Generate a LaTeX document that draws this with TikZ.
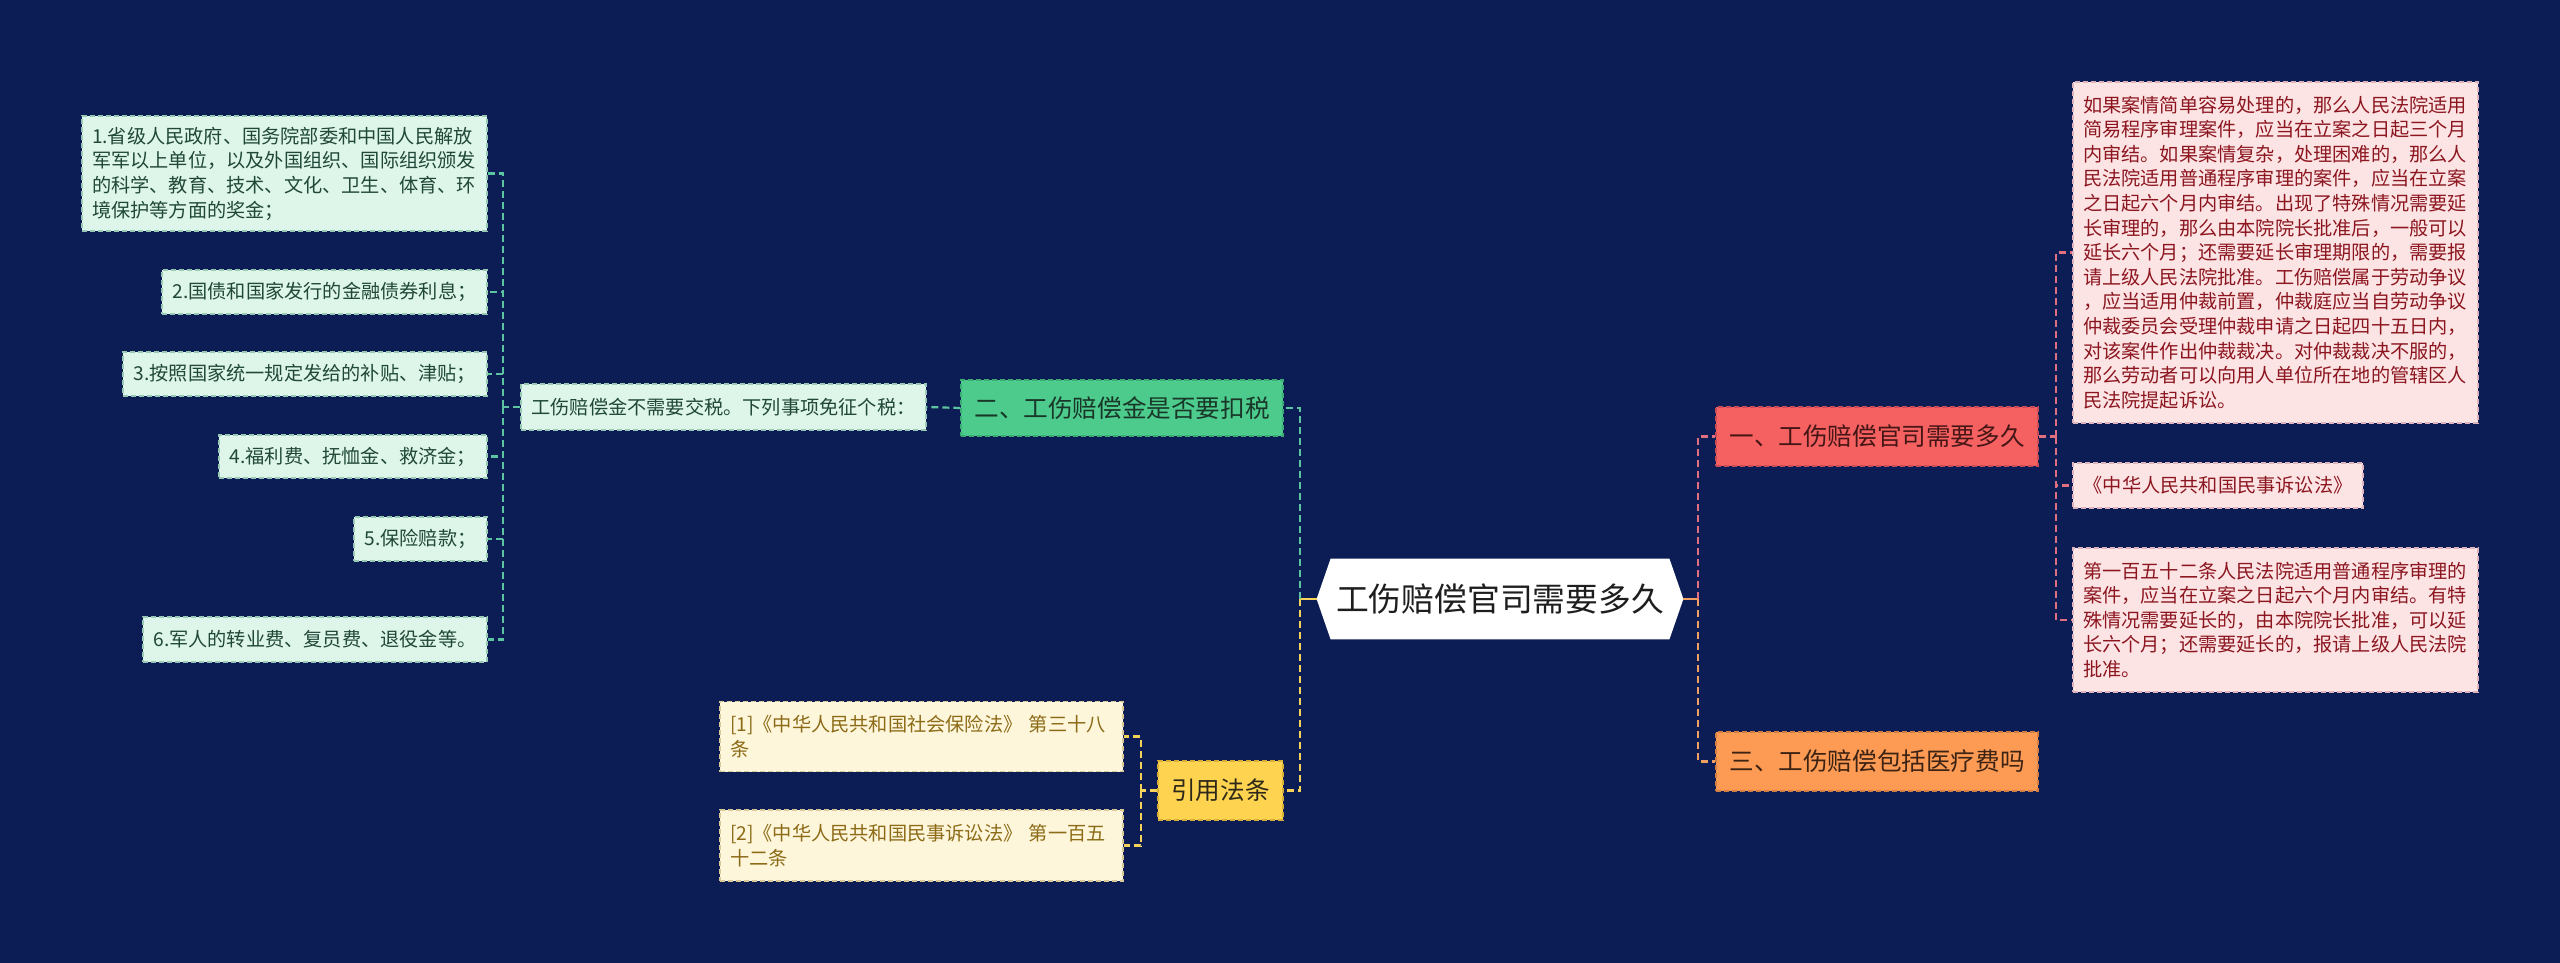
\documentclass[tikz,border=0pt]{standalone}
\usepackage{fontspec}
\setmainfont{Noto Sans CJK SC}
\usetikzlibrary{calc}
\pgfdeclarelayer{back}
\pgfsetlayers{back,main}
\definecolor{bg}{RGB}{12,28,84}
\definecolor{mintfill}{RGB}{222,245,233}
\definecolor{mintline}{RGB}{150,200,180}
\definecolor{minttext}{RGB}{32,72,56}
\definecolor{creamfill}{RGB}{253,246,218}
\definecolor{creamline}{RGB}{215,200,150}
\definecolor{creamtext}{RGB}{140,106,22}
\definecolor{pinkfill}{RGB}{253,228,228}
\definecolor{pinkline}{RGB}{220,180,190}
\definecolor{pinktext}{RGB}{140,22,32}
\definecolor{gfill}{RGB}{77,203,140}
\definecolor{gline}{RGB}{60,170,115}
\definecolor{gtext}{RGB}{25,55,40}
\definecolor{yfill}{RGB}{253,211,79}
\definecolor{yline}{RGB}{215,175,55}
\definecolor{ytext}{RGB}{45,40,25}
\definecolor{rfill}{RGB}{245,97,97}
\definecolor{rline}{RGB}{200,75,85}
\definecolor{rtext}{RGB}{70,22,22}
\definecolor{ofill}{RGB}{253,154,83}
\definecolor{oline}{RGB}{210,125,65}
\definecolor{otext}{RGB}{60,35,20}
\definecolor{gconn}{RGB}{92,196,160}
\definecolor{yconn}{RGB}{245,211,90}
\definecolor{rconn}{RGB}{224,112,127}
\definecolor{oconn}{RGB}{240,160,96}
\definecolor{roottext}{RGB}{30,30,30}
\tikzset{
  box/.style={draw, dash pattern=on 2.5pt off 1.5pt, line width=0.6pt,
    inner xsep=5pt, inner ysep=2pt, font=\fontsize{9.6pt}{12.3pt}\selectfont},
  mleaf/.style={box, fill=mintfill, draw=mintline, text=minttext},
  yleaf/.style={box, fill=creamfill, draw=creamline, text=creamtext},
  pleaf/.style={box, fill=pinkfill, draw=pinkline, text=pinktext},
  branch/.style={draw, dash pattern=on 2.5pt off 1.5pt, line width=0.6pt,
    inner sep=0pt, font=\fontsize{12.3pt}{14pt}\selectfont},
  gbranch/.style={branch, fill=gfill, draw=gline, text=gtext},
  ybranch/.style={branch, fill=yfill, draw=yline, text=ytext},
  rbranch/.style={branch, fill=rfill, draw=rline, text=rtext},
  obranch/.style={branch, fill=ofill, draw=oline, text=otext},
  conn/.style={line width=1.1pt, dash pattern=on 3.5pt off 2pt},
  gc/.style={conn, draw=gconn},
  yc/.style={conn, draw=yconn},
  rc/.style={conn, draw=rconn},
  oc/.style={conn, draw=oconn},
}
\begin{document}
\begin{tikzpicture}[x=0.5pt,y=-0.5pt]
\useasboundingbox (0,0) rectangle (2560,963);
\begin{pgfonlayer}{back}
\fill[bg] (0,0) rectangle (2560,963);
\end{pgfonlayer}

% root
\node[inner sep=0pt, minimum width=183pt, minimum height=40pt,
  font=\fontsize{16.4pt}{18pt}\selectfont, text=roottext]
  (root) at (1500,599) {工伤赔偿官司需要多久};
\begin{pgfonlayer}{back}
\fill[white] (root.west) -- ([xshift=7pt]root.north west) -- ([xshift=-7pt]root.north east)
  -- (root.east) -- ([xshift=-7pt]root.south east) -- ([xshift=7pt]root.south west) -- cycle;
\end{pgfonlayer}

% left branches
\node[gbranch, minimum width=161pt, minimum height=28pt] (green) at (1122,408) {二、工伤赔偿金是否要扣税};
\node[ybranch, minimum width=62.5pt, minimum height=29.5pt] (yel) at (1220.5,790.5) {引用法条};

\node[mleaf, minimum width=202.5pt, minimum height=23pt] (t0) at (723.5,407) {工伤赔偿金不需要交税。下列事项免征个税：};

\node[mleaf, minimum width=202.5pt, minimum height=57.5pt, text width=192.5pt, align=left] (g1) at (284.5,173.5)
  {1.省级人民政府、国务院部委和中国人民解放\\军军以上单位，以及外国组织、国际组织颁发\\的科学、教育、技术、文化、卫生、体育、环\\境保护等方面的奖金；};
\node[mleaf, minimum width=162.5pt, minimum height=22pt] (g2) at (324.5,292) {2.国债和国家发行的金融债券利息；};
\node[mleaf, minimum width=182pt, minimum height=22pt] (g3) at (305,374) {3.按照国家统一规定发给的补贴、津贴；};
\node[mleaf, minimum width=134pt, minimum height=21.5pt] (g4) at (353,456.5) {4.福利费、抚恤金、救济金；};
\node[mleaf, minimum width=66.5pt, minimum height=22pt] (g5) at (420.5,539) {5.保险赔款；};
\node[mleaf, minimum width=172pt, minimum height=22.5pt] (g6) at (315,639.5) {6.军人的转业费、复员费、退役金等。};

\node[yleaf, minimum width=201.5pt, minimum height=35pt, text width=191.5pt, align=left] (c1) at (921.5,736.5)
  {[1]《中华人民共和国社会保险法》 第三十八\\条};
\node[yleaf, minimum width=201.5pt, minimum height=35.5pt, text width=191.5pt, align=left] (c2) at (921.5,845.5)
  {[2]《中华人民共和国民事诉讼法》 第一百五\\十二条};

% right branches
\node[rbranch, minimum width=161pt, minimum height=29.5pt] (red) at (1877,436.5) {一、工伤赔偿官司需要多久};
\node[obranch, minimum width=161pt, minimum height=29.5pt] (orange) at (1877,761.5) {三、工伤赔偿包括医疗费吗};

\node[pleaf, minimum width=202.5pt, minimum height=170.5pt, text width=192.5pt, align=left] (p1) at (2275.5,252.5)
  {如果案情简单容易处理的，那么人民法院适用\\简易程序审理案件，应当在立案之日起三个月\\内审结。如果案情复杂，处理困难的，那么人\\民法院适用普通程序审理的案件，应当在立案\\之日起六个月内审结。出现了特殊情况需要延\\长审理的，那么由本院院长批准后，一般可以\\延长六个月；还需要延长审理期限的，需要报\\请上级人民法院批准。工伤赔偿属于劳动争议\\，应当适用仲裁前置，仲裁庭应当自劳动争议\\仲裁委员会受理仲裁申请之日起四十五日内，\\对该案件作出仲裁裁决。对仲裁裁决不服的，\\那么劳动者可以向用人单位所在地的管辖区人\\民法院提起诉讼。};
\node[pleaf, minimum width=145pt, minimum height=22.5pt] (p2) at (2218,485.5) {《中华人民共和国民事诉讼法》};
\node[pleaf, minimum width=202.5pt, minimum height=72pt, text width=192.5pt, align=left] (p3) at (2275.5,620)
  {第一百五十二条人民法院适用普通程序审理的\\案件，应当在立案之日起六个月内审结。有特\\殊情况需要延长的，由本院院长批准，可以延\\长六个月；还需要延长的，报请上级人民法院\\批准。};

% junctions
\coordinate (jl) at (1300,599);
\coordinate (jr) at (1698,599);
\coordinate (lb) at (503,407);
\coordinate (yb) at (1141,790.5);
\coordinate (rb) at (2056,436.5);

% root connectors
\draw[yconn, line width=1.1pt] (root.west) -- (jl);
\draw[oconn, line width=1.1pt] (root.east) -- (jr);
\draw[gc] (jl) |- (green.east);
\draw[yc] (jl) |- (yel.east);
\draw[rc] (jr) |- (red.west);
\draw[oc] (jr) |- (orange.west);

% green branch
\draw[gc] (green.west) -- (t0.east);
\draw[gc] (t0.west) -- (lb);
\foreach \n in {g1,g2,g3,g4,g5,g6}{\draw[gc] (lb) |- (\n.east);}

% yellow branch
\draw[yc] (yel.west) -- (yb);
\draw[yc] (yb) |- (c1.east);
\draw[yc] (yb) |- (c2.east);

% red branch
\draw[rc] (red.east) -- (rb);
\foreach \n in {p1,p2,p3}{\draw[rc] (rb) |- (\n.west);}
\end{tikzpicture}
\end{document}
